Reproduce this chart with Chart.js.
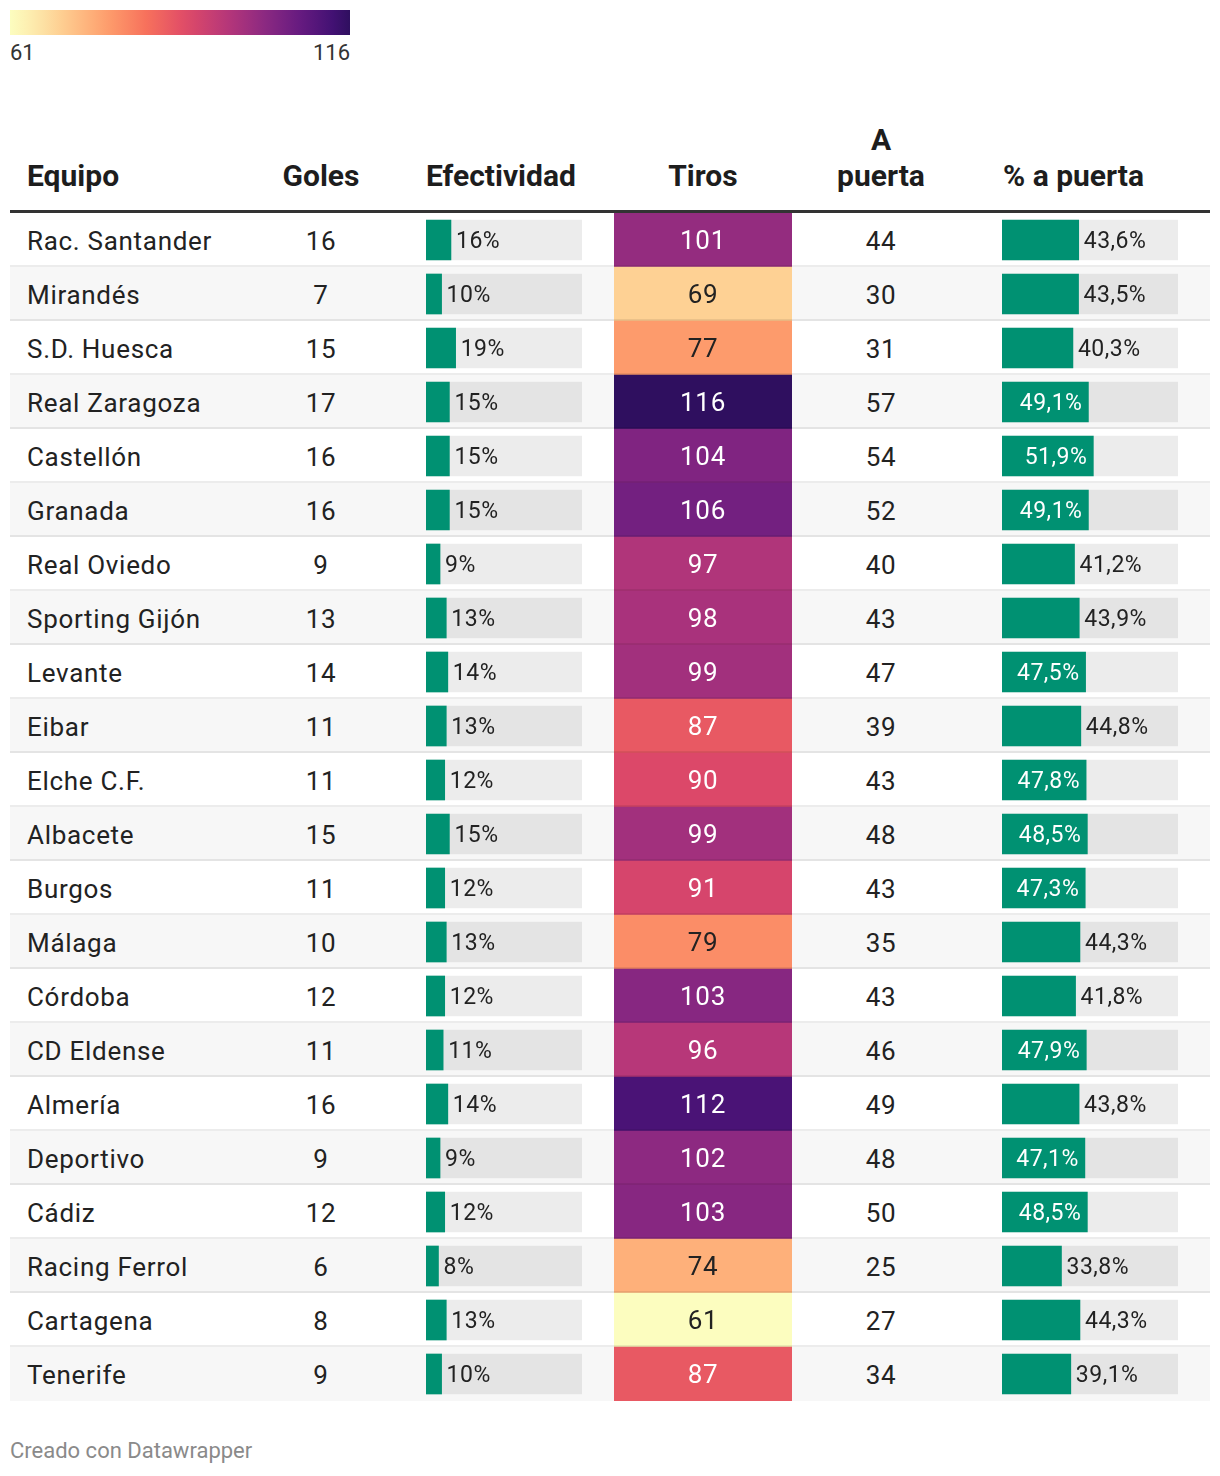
<!DOCTYPE html>
<html>
<head>
<meta charset="utf-8">
<script src="https://cdn.jsdelivr.net/npm/chart.js@4.4.1/dist/chart.umd.min.js"></script>
<style>
  body { margin: 0; background: #fff; font-family: Roboto, "Noto Sans", sans-serif; color: #1d1d1d; }
  #wrap { position: relative; width: 1220px; height: 1476px; }
  .abs { position: absolute; }
  .hd { position: absolute; font-weight: 700; font-size: 30px; line-height: 36px; color: #1d1d1d; }
  .row { position: absolute; left: 10px; width: 1200px; height: 54px; }
  .cell { position: absolute; top: 0; height: 54px; line-height: 56px; font-size: 26px; letter-spacing: 0.7px; color: #222; }
  .sep { position: absolute; left: 10px; width: 1200px; height: 2px; background: rgba(0,0,0,0.075); z-index: 5; }
  canvas { position: absolute; z-index: 2; }
</style>
</head>
<body>
<div id="wrap">
  <div class="abs" id="legbar" style="left:10px;top:10px;width:340px;height:25px;"></div>
  <div class="abs" style="left:10px;top:40px;font-size:22px;color:#333;">61</div>
  <div class="abs" style="left:250px;top:40px;width:100px;text-align:right;font-size:22px;color:#333;">116</div>

  <div class="hd" style="left:27px;top:158px;">Equipo</div>
  <div class="hd" style="left:271px;top:158px;width:100px;text-align:center;">Goles</div>
  <div class="hd" style="left:426px;top:158px;">Efectividad</div>
  <div class="hd" style="left:614px;top:158px;width:178px;text-align:center;">Tiros</div>
  <div class="hd" style="left:821px;top:122px;width:120px;text-align:center;">A<br>puerta</div>
  <div class="hd" style="left:1003px;top:158px;">% a puerta</div>
  <div class="abs" style="left:10px;top:210px;width:1200px;height:3px;background:#333;"></div>

  <div id="rows"></div>
  <canvas id="efChart" width="184" height="1188" style="left:426px;top:213px;"></canvas>
  <canvas id="tirosChart" width="178" height="1188" style="left:614px;top:213px;"></canvas>
  <canvas id="apChart" width="208" height="1188" style="left:1002px;top:213px;"></canvas>

  <div class="abs" style="left:10px;top:1438px;font-size:22px;color:#8a8a8a;">Creado con Datawrapper</div>
</div>
<script>
var equipos = ["Rac. Santander", "Mirandés", "S.D. Huesca", "Real Zaragoza", "Castellón", "Granada",
  "Real Oviedo", "Sporting Gijón", "Levante", "Eibar", "Elche C.F.", "Albacete", "Burgos", "Málaga",
  "Córdoba", "CD Eldense", "Almería", "Deportivo", "Cádiz", "Racing Ferrol", "Cartagena", "Tenerife"];
var goles = [16, 7, 15, 17, 16, 16, 9, 13, 14, 11, 11, 15, 11, 10, 12, 11, 16, 9, 12, 6, 8, 9];
var efectividad = [16, 10, 19, 15, 15, 15, 9, 13, 14, 13, 12, 15, 12, 13, 12, 11, 14, 9, 12, 8, 13, 10];
var tiros = [101, 69, 77, 116, 104, 106, 97, 98, 99, 87, 90, 99, 91, 79, 103, 96, 112, 102, 103, 74, 61, 87];
var aPuerta = [44, 30, 31, 57, 54, 52, 40, 43, 47, 39, 43, 48, 43, 35, 43, 46, 49, 48, 50, 25, 27, 34];
var pctPuerta = [43.6, 43.5, 40.3, 49.1, 51.9, 49.1, 41.2, 43.9, 47.5, 44.8, 47.8, 48.5, 47.3, 44.3,
  41.8, 47.9, 43.8, 47.1, 48.5, 33.8, 44.3, 39.1];
var tirosMin = 61, tirosMax = 116;

var GREEN = "#009172";
var TRACK = "rgba(0,0,0,0.075)";
var ROW_H = 54;

// magma colormap stops (t = 0 dark ... 1 light)
var magma = ["#000004", "#140e36", "#3b0f70", "#641a80", "#8c2981", "#b73779",
  "#de4968", "#f7705c", "#fe9f6d", "#fecf92", "#fcfdbf"];

function hexRgb(h) {
  return [parseInt(h.substr(1, 2), 16), parseInt(h.substr(3, 2), 16), parseInt(h.substr(5, 2), 16)];
}
function magmaAt(t) {
  t = Math.max(0, Math.min(1, t));
  var p = t * (magma.length - 1);
  var i = Math.min(Math.floor(p), magma.length - 2);
  var f = p - i;
  var a = hexRgb(magma[i]), b = hexRgb(magma[i + 1]);
  return "rgb(" + Math.round(a[0] + (b[0] - a[0]) * f) + "," + Math.round(a[1] + (b[1] - a[1]) * f) + "," + Math.round(a[2] + (b[2] - a[2]) * f) + ")";
}
function tirosColor(v) {
  var frac = (v - tirosMin) / (tirosMax - tirosMin);
  return magmaAt(1 - 0.83 * Math.pow(frac, 1.12));
}

// legend gradient
var stops = [];
for (var s = 0; s <= 20; s++) {
  stops.push(tirosColor(tirosMin + (tirosMax - tirosMin) * s / 20) + " " + (s * 5) + "%");
}
document.getElementById("legbar").style.background = "linear-gradient(to right," + stops.join(",") + ")";

// rows: backgrounds + plain text columns
var rowsEl = document.getElementById("rows");
for (var i = 0; i < equipos.length; i++) {
  var rowTop = 213 + i * ROW_H;
  var r = document.createElement("div");
  r.className = "row";
  r.style.top = rowTop + "px";
  r.style.background = i % 2 ? "#f7f7f7" : "#ffffff";
  r.innerHTML =
    '<div class="cell" style="left:17px;">' + equipos[i] + '</div>' +
    '<div class="cell" style="left:261px;width:100px;text-align:center;">' + goles[i] + '</div>' +
    '<div class="cell" style="left:811px;width:120px;text-align:center;">' + aPuerta[i] + '</div>';
  rowsEl.appendChild(r);
  if (i < equipos.length - 1) {
    var sp = document.createElement("div");
    sp.className = "sep";
    sp.style.top = (rowTop + ROW_H - 2) + "px";
    rowsEl.appendChild(sp);
  }
}

Chart.defaults.font.family = "Roboto, 'Noto Sans', sans-serif";

// plugin drawing value labels next to / inside bars
var barLabels = {
  id: "barLabels",
  afterDatasetsDraw: function(chart, args, opts) {
    var ctx = chart.ctx;
    var meta = chart.getDatasetMeta(1);
    var vals = chart.data.datasets[1].data;
    ctx.save();
    ctx.font = opts.size + "px Roboto";
    ctx.letterSpacing = "0.5px";
    ctx.textBaseline = "middle";
    meta.data.forEach(function(bar, k) {
      var v = vals[k];
      var txt = opts.format(v);
      if (opts.insideFrom !== undefined && v >= opts.insideFrom) {
        ctx.fillStyle = "#ffffff";
        ctx.textAlign = "right";
        ctx.fillText(txt, bar.x - 6, bar.y + 2);
      } else {
        ctx.fillStyle = "#222";
        ctx.textAlign = "left";
        ctx.fillText(txt, bar.x + 5, bar.y + 2);
      }
    });
    ctx.restore();
  }
};

function barChart(id, values, padRight, fmt, insideFrom) {
  return new Chart(document.getElementById(id), {
    type: "bar",
    data: {
      labels: equipos,
      datasets: [
        { data: values.map(function() { return 100; }), backgroundColor: TRACK, barThickness: 40, grouped: false, order: 2 },
        { data: values, backgroundColor: GREEN, barThickness: 40, grouped: false, order: 1 }
      ]
    },
    options: {
      indexAxis: "y",
      responsive: false,
      animation: false,
      devicePixelRatio: 1,
      layout: { padding: { left: 0, right: padRight, top: 0, bottom: 0 } },
      scales: {
        x: { min: 0, max: 100, display: false },
        y: { display: false, offset: true }
      },
      plugins: {
        legend: { display: false },
        tooltip: { enabled: false },
        barLabels: { size: 23, format: fmt, insideFrom: insideFrom }
      }
    },
    plugins: [barLabels]
  });
}

barChart("efChart", efectividad, 28, function(v) { return v + "%"; });
barChart("apChart", pctPuerta, 32, function(v) { return v.toFixed(1).replace(".", ",") + "%"; }, 46);

// Tiros heat cells
new Chart(document.getElementById("tirosChart"), {
  type: "bar",
  data: {
    labels: equipos,
    datasets: [{
      data: tiros.map(function() { return [0, 1]; }),
      backgroundColor: tiros.map(tirosColor),
      barPercentage: 1,
      categoryPercentage: 1
    }]
  },
  options: {
    indexAxis: "y",
    responsive: false,
    animation: false,
    devicePixelRatio: 1,
    layout: { padding: 0 },
    scales: {
      x: { min: 0, max: 1, display: false },
      y: { display: false, offset: true }
    },
    plugins: { legend: { display: false }, tooltip: { enabled: false } }
  },
  plugins: [{
    id: "cellText",
    afterDatasetsDraw: function(chart) {
      var ctx = chart.ctx;
      ctx.save();
      ctx.font = "26px Roboto";
      ctx.letterSpacing = "0.7px";
      ctx.textAlign = "center";
      ctx.textBaseline = "middle";
      chart.getDatasetMeta(0).data.forEach(function(bar, k) {
        ctx.fillStyle = tiros[k] >= 85 ? "#ffffff" : "#222";
        ctx.fillText(String(tiros[k]), (bar.x + bar.base) / 2, bar.y + 2);
      });
      ctx.restore();
    }
  }]
});
</script>
</body>
</html>
